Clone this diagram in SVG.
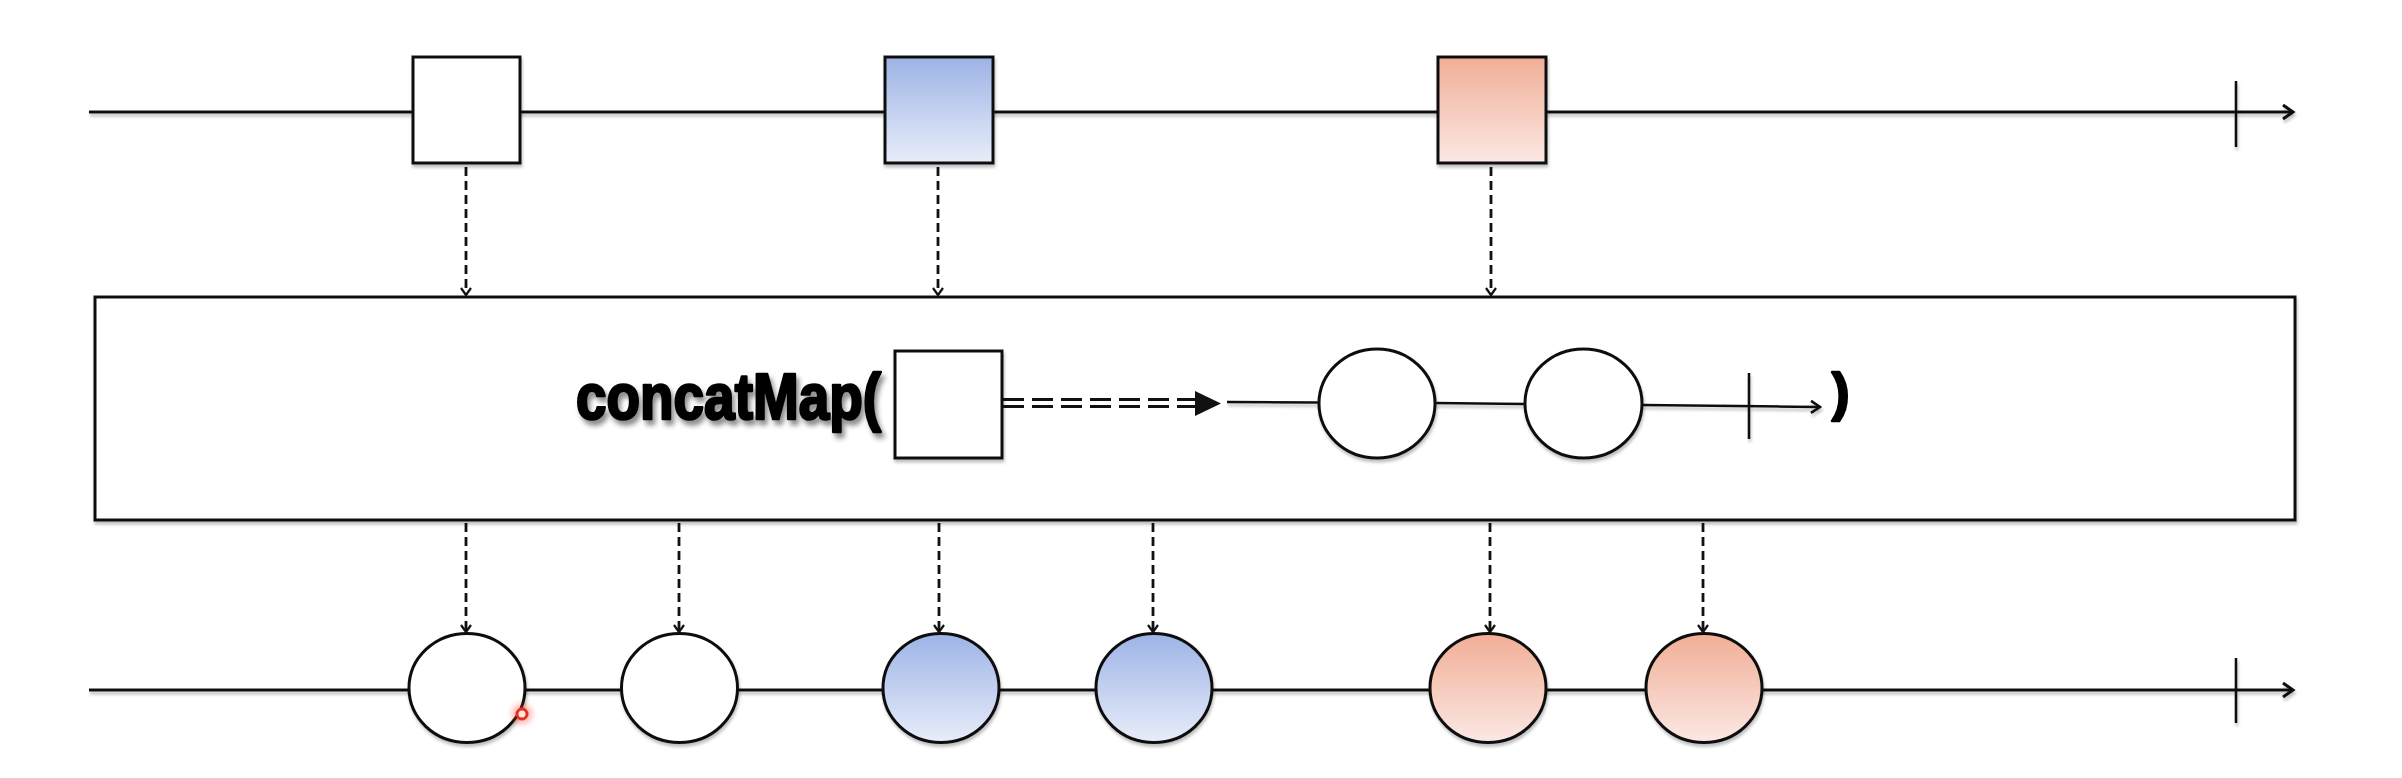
<svg xmlns="http://www.w3.org/2000/svg" width="2402" height="778" viewBox="0 0 2402 778">
  <style>
    .line { stroke: #111; stroke-width: 3; fill: none; }
    .thin { stroke: #111; stroke-width: 2.5; fill: none; }
    .dash { stroke: #111; stroke-width: 2.8; fill: none; stroke-dasharray: 9 5; }
    .shape { stroke: #111; stroke-width: 3; }
    .white { fill: #ffffff; }
    .blue { fill: url(#gBlue); }
    .red { fill: url(#gRed); }
    .title { font-family: "Liberation Sans", Arial, sans-serif; font-weight: bold; fill: #000; stroke: #000; stroke-width: 2.6; stroke-linejoin: round; }
  </style>
  <defs>
    <linearGradient id="gBlue" x1="0" y1="0" x2="0" y2="1">
      <stop offset="0" stop-color="#9db3e6"/>
      <stop offset="1" stop-color="#e8edf9"/>
    </linearGradient>
    <linearGradient id="gRed" x1="0" y1="0" x2="0" y2="1">
      <stop offset="0" stop-color="#f1ae95"/>
      <stop offset="1" stop-color="#fbe8e4"/>
    </linearGradient>
    <filter id="shadow" x="-5%" y="-20%" width="110%" height="140%">
      <feDropShadow dx="1" dy="3" stdDeviation="1.5" flood-color="#000" flood-opacity="0.25"/>
    </filter>
    <filter id="textShadow" x="-10%" y="-30%" width="120%" height="160%">
      <feDropShadow dx="3" dy="5" stdDeviation="2.5" flood-color="#000" flood-opacity="0.45"/>
    </filter>
    <filter id="glow" x="-100%" y="-100%" width="300%" height="300%">
      <feGaussianBlur stdDeviation="3"/>
    </filter>
    <marker id="openSmall" markerUnits="userSpaceOnUse" markerWidth="14" markerHeight="14" viewBox="-8 -7 10 14" refX="0" refY="0" orient="auto">
      <path d="M-7,-5 L0,0 L-7,5" fill="none" stroke="#111" stroke-width="2.2"/>
    </marker>
    <marker id="openBig" markerUnits="userSpaceOnUse" markerWidth="16" markerHeight="18" viewBox="-12 -9 14 18" refX="0" refY="0" orient="auto">
      <path d="M-10,-7 L0,0 L-10,7" fill="none" stroke="#111" stroke-width="3"/>
    </marker>
    <marker id="openMid" markerUnits="userSpaceOnUse" markerWidth="16" markerHeight="18" viewBox="-12 -9 14 18" refX="0" refY="0" orient="auto">
      <path d="M-9,-6 L0,0 L-9,6" fill="none" stroke="#111" stroke-width="2.5"/>
    </marker>
  </defs>

  <rect x="0" y="0" width="2402" height="778" fill="#ffffff"/>

  <!-- timelines -->
  <g id="top-timeline" filter="url(#shadow)">
    <line class="line" x1="89" y1="112" x2="2293" y2="112" marker-end="url(#openBig)"/>
    <line class="thin" x1="2236" y1="81" x2="2236" y2="147"/>
  </g>
  <g id="bottom-timeline" filter="url(#shadow)">
    <line class="line" x1="89" y1="690" x2="2293" y2="690" marker-end="url(#openBig)"/>
    <line class="thin" x1="2236" y1="658" x2="2236" y2="723"/>
  </g>

  <!-- connectors -->
  <g id="connectors">
    <line class="dash" x1="466" y1="167" x2="466" y2="295" marker-end="url(#openSmall)"/>
    <line class="dash" x1="938" y1="167" x2="938" y2="295" marker-end="url(#openSmall)"/>
    <line class="dash" x1="1491" y1="167" x2="1491" y2="295" marker-end="url(#openSmall)"/>
    <line class="dash" x1="466" y1="523" x2="466" y2="632" marker-end="url(#openSmall)"/>
    <line class="dash" x1="679" y1="523" x2="679" y2="632" marker-end="url(#openSmall)"/>
    <line class="dash" x1="939" y1="523" x2="939" y2="632" marker-end="url(#openSmall)"/>
    <line class="dash" x1="1153" y1="523" x2="1153" y2="632" marker-end="url(#openSmall)"/>
    <line class="dash" x1="1490" y1="523" x2="1490" y2="632" marker-end="url(#openSmall)"/>
    <line class="dash" x1="1703" y1="523" x2="1703" y2="632" marker-end="url(#openSmall)"/>
  </g>

  <!-- top squares -->
  <g id="sq-white" filter="url(#shadow)">
    <rect class="shape white" x="413" y="57" width="107" height="106"/>
  </g>
  <g id="sq-blue" filter="url(#shadow)">
    <rect class="shape blue" x="885" y="57" width="108" height="106"/>
  </g>
  <g id="sq-red" filter="url(#shadow)">
    <rect class="shape red" x="1438" y="57" width="108" height="106"/>
  </g>

  <!-- operator box -->
  <g id="operator">
    <rect class="shape" x="95" y="297" width="2200" height="223" fill="#ffffff" filter="url(#shadow)"/>
    <text class="title" x="576" y="419" font-size="64" textLength="305" lengthAdjust="spacingAndGlyphs" filter="url(#textShadow)">concatMap(</text>
    <g id="op-square" filter="url(#shadow)">
      <rect class="shape white" x="895" y="351" width="107" height="107"/>
    </g>
    <g id="op-map-arrow">
      <line x1="1003" y1="399.5" x2="1195" y2="399.5" stroke="#111" stroke-width="3.2" stroke-dasharray="21 8"/>
      <line x1="1003" y1="406.5" x2="1195" y2="406.5" stroke="#111" stroke-width="3.2" stroke-dasharray="21 8"/>
      <polygon points="1195,391 1221,403.5 1195,416" fill="#111"/>
    </g>
    <g id="op-inner-timeline" filter="url(#shadow)">
      <line class="thin" x1="1227" y1="402" x2="1320" y2="402.5"/>
      <line class="thin" x1="1435" y1="403" x2="1525" y2="404"/>
      <line class="thin" x1="1642" y1="405" x2="1820" y2="407" marker-end="url(#openMid)"/>
      <line class="thin" x1="1749" y1="373" x2="1749" y2="439"/>
    </g>
    <g id="op-circle-1" filter="url(#shadow)">
      <ellipse class="shape white" cx="1377" cy="403.5" rx="58" ry="54.5"/>
    </g>
    <g id="op-circle-2" filter="url(#shadow)">
      <ellipse class="shape white" cx="1583.5" cy="403.5" rx="58.5" ry="54.5"/>
    </g>
    <text class="title" x="1832" y="410" font-size="52">)</text>
  </g>

  <!-- bottom circles -->
  <g id="out-white-1" filter="url(#shadow)">
    <ellipse class="shape white" cx="467" cy="688" rx="58" ry="54.5"/>
  </g>
  <g id="out-white-2" filter="url(#shadow)">
    <ellipse class="shape white" cx="679.5" cy="688" rx="58" ry="54.5"/>
  </g>
  <g id="out-blue-1" filter="url(#shadow)">
    <ellipse class="shape blue" cx="941" cy="688" rx="58" ry="54.5"/>
  </g>
  <g id="out-blue-2" filter="url(#shadow)">
    <ellipse class="shape blue" cx="1154" cy="688" rx="58" ry="54.5"/>
  </g>
  <g id="out-red-1" filter="url(#shadow)">
    <ellipse class="shape red" cx="1488" cy="688" rx="58" ry="54.5"/>
  </g>
  <g id="out-red-2" filter="url(#shadow)">
    <ellipse class="shape red" cx="1704" cy="688" rx="58" ry="54.5"/>
  </g>

  <!-- cursor mark -->
  <g id="cursor">
    <circle cx="522" cy="714" r="10" fill="#ff3a2a" opacity="0.4" filter="url(#glow)"/>
    <circle cx="522" cy="714" r="5" fill="#ffe8e4" stroke="#e4301e" stroke-width="3"/>
  </g>
</svg>
